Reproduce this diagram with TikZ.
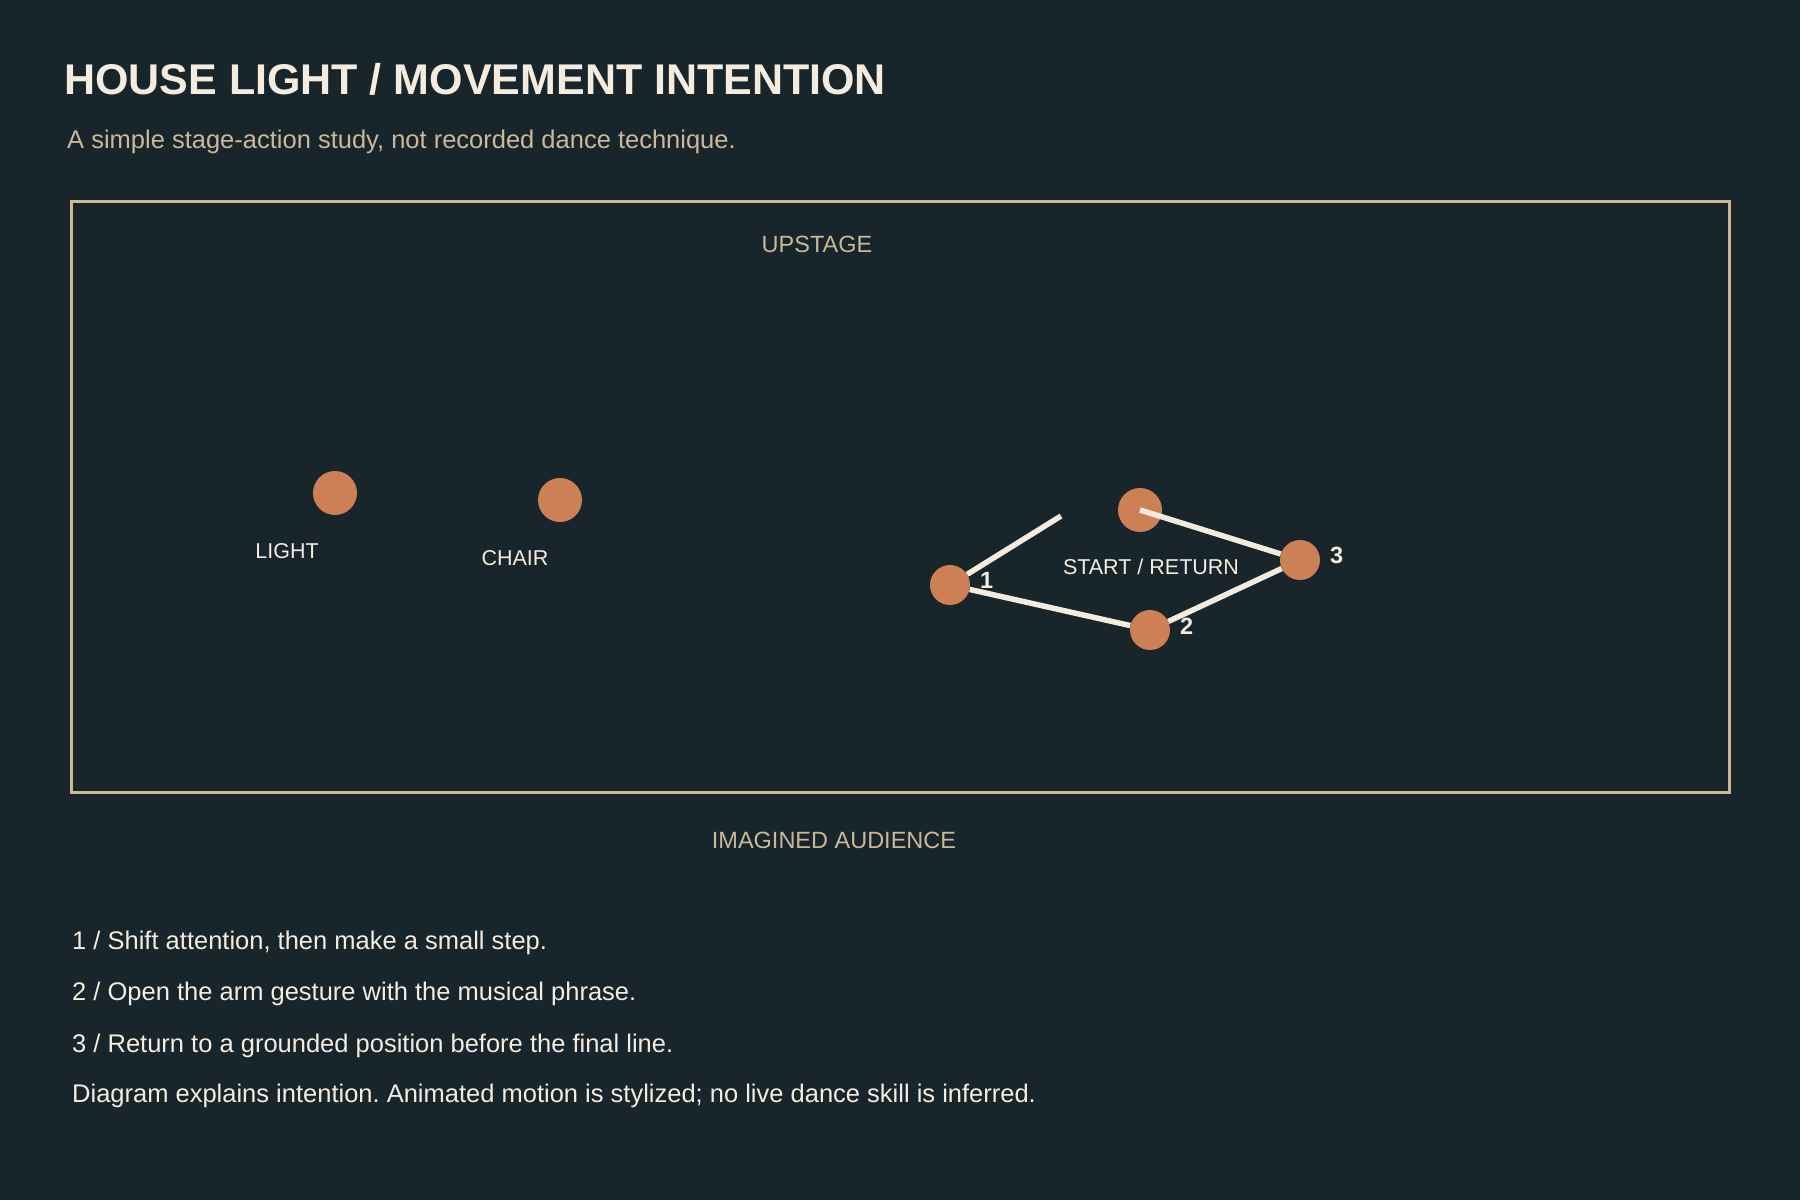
\documentclass[tikz,border=0pt]{standalone}
\usepackage{fontspec}
\setmainfont{Liberation Sans}
\usepackage{xcolor}
\usetikzlibrary{positioning}
\frenchspacing

\definecolor{stagebg}{HTML}{18252A}
\definecolor{tanline}{HTML}{C9B99A}
\definecolor{creamtxt}{HTML}{F4ECDF}
\definecolor{dotorange}{HTML}{CD7F55}

\begin{document}
\begin{tikzpicture}[
			x=1pt, y=-1pt,
			dot/.style={
				circle, fill=dotorange, inner sep=0pt, minimum size=40pt
			},
			bigdot/.style={dot, minimum size=44pt},
			lbl/.style={
				text=creamtxt, inner sep=0pt, anchor=base,
				font=\fontsize{21.5}{26}\selectfont
			},
			marklbl/.style={
				lbl, anchor=base west,
				font=\fontsize{23.5}{28}\selectfont\bfseries
			},
			side/.style={
				text=tanline, inner sep=0pt, anchor=base,
				font=\fontsize{23.5}{28}\selectfont
			},
			note/.style={
				text=creamtxt, inner sep=0pt, anchor=base west,
				font=\fontsize{25.5}{30}\selectfont
			},
			path/.style={draw=creamtxt, line width=5.5pt, line cap=butt}
			]
			
			%==================== 背景 ====================
			\fill[stagebg] (0,0) rectangle (1800,1200);
			\useasboundingbox (0,0) rectangle (1800,1200);
			
			%==================== 标题 ====================
			\node[text=creamtxt, inner sep=0pt, anchor=base west,
			font=\fontsize{43}{50}\selectfont\bfseries] (title) at (64,94)
			{HOUSE LIGHT / MOVEMENT INTENTION};
			\node[note, text=tanline] (subtitle) at (67,148)
			{A simple stage-action study, not recorded dance technique.};
			
			%==================== 舞台 ====================
			\draw[tanline, line width=3pt] (71.5,201.5) rectangle (1729.5,792.5);
			\node[side] (upstage) at (817,252) {UPSTAGE};
			\node[side] (audience) at (834,848) {IMAGINED AUDIENCE};
			
			%==================== 道具 ====================
			\node[bigdot] (light) at (335,493) {};
			\node[lbl] (lightlbl) at (287,558) {LIGHT};
			\node[bigdot] (chair) at (560,500) {};
			\node[lbl] (chairlbl) at (515,565) {CHAIR};
			
			%==================== 路线 ====================
			\node[bigdot] (start) at (1140,510) {};
			\node[lbl] (startlbl) at (1151,574) {START / RETURN};
			\node[dot] (one) at (950,585) {};
			\node[dot] (two) at (1150,630) {};
			\node[dot] (three) at (1300,560) {};
			\coordinate (stepend) at (1061,516);
			
			\draw[path] (start.center) -- (three) -- (two) -- (one) -- (stepend);
			
			\node[marklbl] (onelbl) at (980,588) {1};
			\node[marklbl] (twolbl) at (1180,634) {2};
			\node[marklbl] (threelbl) at (1330,563) {3};
			
			%==================== 说明 ====================
			\node[note] (noteone) at (72,949) {1 / Shift attention, then make a small step.};
			\node[note] (notetwo) at (72,1000) {2 / Open the arm gesture with the musical phrase.};
			\node[note] (notethree) at (72,1052) {3 / Return to a grounded position before the final line.};
			\node[note] (notefour) at (72,1102) {Diagram explains intention. Animated motion is stylized; no live dance skill is inferred.};
			
		\end{tikzpicture}
\end{document}
